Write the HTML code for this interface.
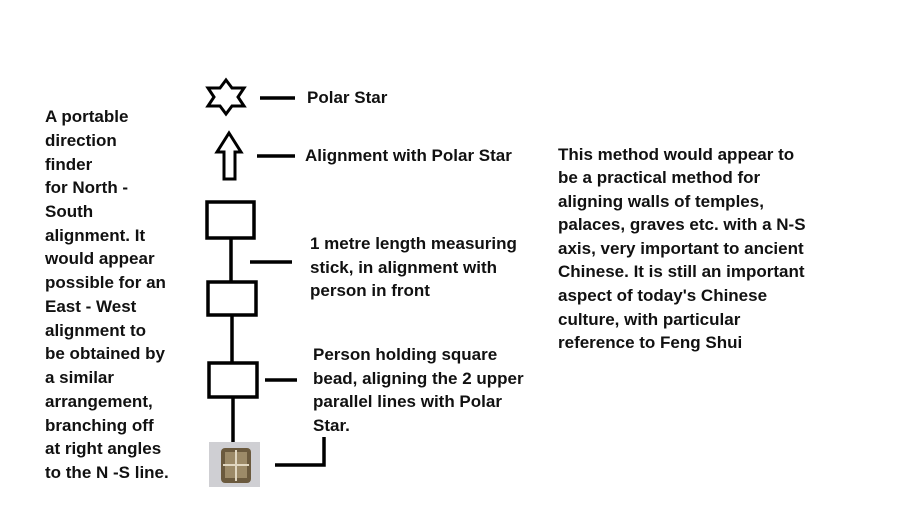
<!DOCTYPE html>
<html><head><meta charset="utf-8"><style>
body{margin:0;width:900px;height:532px;background:#fff;position:relative;overflow:hidden;font-family:"Liberation Sans",sans-serif;font-weight:bold;font-size:17px;color:#111}
.t{position:absolute;white-space:nowrap;line-height:18px}
</style></head><body>
<svg width="900" height="532" style="position:absolute;left:0;top:0">
<g fill="none" stroke="#000" stroke-width="3.5">
<polygon points="226,80 232,88 244,88 238,97 244,106 232,106 226,114 220,106 208,106 214,97 208,88 220,88" stroke-width="3"/>
<polygon points="229,133 241,152 235,152 235,179 224,179 224,152 217,152" stroke-width="3"/>
<rect x="207" y="202" width="47" height="36"/>
<rect x="208" y="282" width="48" height="33"/>
<rect x="209" y="363" width="48" height="34"/>
<line x1="231" y1="238" x2="231" y2="282"/>
<line x1="232" y1="315" x2="232" y2="363"/>
<line x1="233" y1="397" x2="233" y2="443"/>
<line x1="260" y1="98" x2="295" y2="98"/>
<line x1="257" y1="156" x2="295" y2="156"/>
<line x1="250" y1="262" x2="292" y2="262"/>
<line x1="265" y1="380" x2="297" y2="380"/>
<polyline points="275,465 324,465 324,437"/>
</g>
<rect x="209" y="442" width="51" height="45" fill="#cfcfd3"/>
<rect x="221" y="448" width="30" height="35" rx="4" fill="#6b5a3e"/>
<rect x="225" y="452" width="22" height="26" fill="#9c8a68"/>
<line x1="236" y1="450" x2="236" y2="481" stroke="#e0d6c0" stroke-width="2"/>
<line x1="223" y1="465" x2="249" y2="465" stroke="#e0d6c0" stroke-width="2"/>
</svg>
<div class="t" style="left:45px;top:108px">A portable</div>
<div class="t" style="left:45px;top:132px">direction</div>
<div class="t" style="left:45px;top:156px">finder</div>
<div class="t" style="left:45px;top:179px">for North -</div>
<div class="t" style="left:45px;top:203px">South</div>
<div class="t" style="left:45px;top:227px">alignment. It</div>
<div class="t" style="left:45px;top:250px">would appear</div>
<div class="t" style="left:45px;top:274px">possible for an</div>
<div class="t" style="left:45px;top:298px">East - West</div>
<div class="t" style="left:45px;top:322px">alignment to</div>
<div class="t" style="left:45px;top:345px">be obtained by</div>
<div class="t" style="left:45px;top:369px">a similar</div>
<div class="t" style="left:45px;top:393px">arrangement,</div>
<div class="t" style="left:45px;top:417px">branching off</div>
<div class="t" style="left:45px;top:440px">at right angles</div>
<div class="t" style="left:45px;top:464px">to the N -S line.</div>
<div class="t" style="left:307px;top:89px">Polar Star</div>
<div class="t" style="left:305px;top:147px">Alignment with Polar Star</div>
<div class="t" style="left:310px;top:235px">1 metre length measuring</div>
<div class="t" style="left:310px;top:259px">stick, in alignment with</div>
<div class="t" style="left:310px;top:282px">person in front</div>
<div class="t" style="left:313px;top:346px">Person holding square</div>
<div class="t" style="left:313px;top:370px">bead, aligning the 2 upper</div>
<div class="t" style="left:313px;top:393px">parallel lines with Polar</div>
<div class="t" style="left:313px;top:417px">Star.</div>
<div class="t" style="left:558px;top:146px">This method would appear to</div>
<div class="t" style="left:558px;top:169px">be a practical method for</div>
<div class="t" style="left:558px;top:193px">aligning walls of temples,</div>
<div class="t" style="left:558px;top:216px">palaces, graves etc. with a N-S</div>
<div class="t" style="left:558px;top:240px">axis, very important to ancient</div>
<div class="t" style="left:558px;top:263px">Chinese. It is still an important</div>
<div class="t" style="left:558px;top:287px">aspect of today's Chinese</div>
<div class="t" style="left:558px;top:311px">culture, with particular</div>
<div class="t" style="left:558px;top:334px">reference to Feng Shui</div>
</body></html>
